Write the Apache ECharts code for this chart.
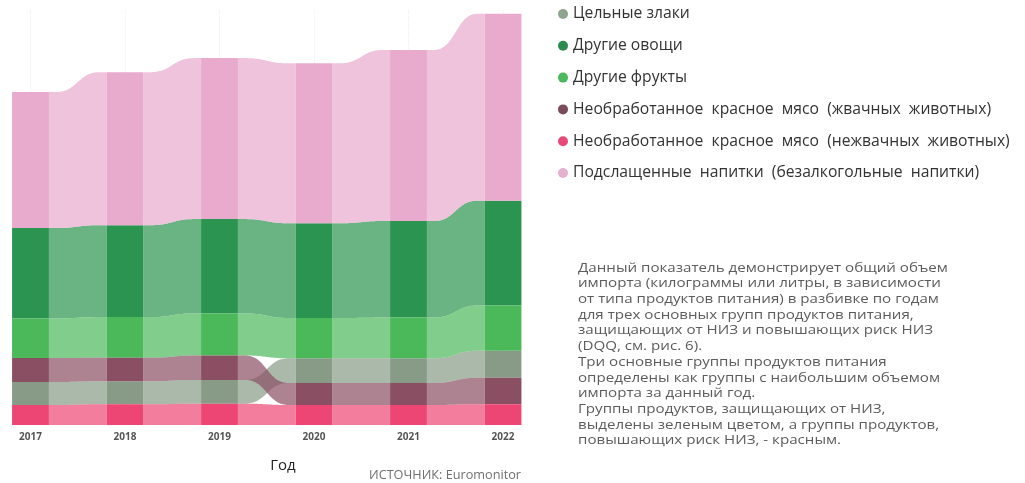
<!DOCTYPE html>
<html>
<head>
<meta charset="utf-8">
<script src="https://cdn.jsdelivr.net/npm/echarts@6/dist/echarts.min.js"></script>
<style>
  html, body { margin: 0; padding: 0; background: #ffffff; }
  #chart { width: 1025px; height: 483px; }
</style>
</head>
<body>
<div id="chart"></div>
<script>
// Import volume by year for the three largest protective and three largest risk food groups
const years = ['2017', '2018', '2019', '2020', '2021', '2022'];

const groupNames = [
  'Цельные злаки',
  'Другие овощи',
  'Другие фрукты',
  'Необработанное  красное  мясо  (жвачных  животных)',
  'Необработанное  красное  мясо  (нежвачных  животных)',
  'Подслащенные  напитки  (безалкогольные  напитки)'
];

const wholeGrains    = [23.0, 23.0, 23.8, 24.7, 24.7, 27.0];
const otherVeg       = [90.4, 91.9, 94.3, 94.7, 96.6, 104.8];
const otherFruit     = [39.6, 40.7, 42.1, 40.3, 40.7, 45.2];
const ruminantMeat   = [24.0, 23.5, 24.4, 22.0, 22.0, 26.6];
const nonRuminantMeat= [20.0, 20.7, 21.3, 20.0, 20.0, 20.7];
const sweetDrinks    = [136, 153, 161, 160, 171, 187];

const barColors    = ['#879b87', '#2b9450', '#4bb85a', '#8a4f63', '#ee4674', '#e8aacd'];
const legendColors = ['#8fa48e', '#2d8a4e', '#4cb85c', '#7d4a5c', '#e84a78', '#e6b0cf'];

const noteLines = [
  'Данный показатель демонстрирует общий объем',
  'импорта (килограммы или литры, в зависимости',
  'от типа продуктов питания) в разбивке по годам',
  'для трех основных групп продуктов питания,',
  'защищающих от НИЗ и повышающих риск НИЗ',
  '(DQQ, см. рис. 6).',
  'Три основные группы продуктов питания',
  'определены как группы с наибольшим объемом',
  'импорта за данный год.',
  'Группы продуктов, защищающих от НИЗ,',
  'выделены зеленым цветом, а группы продуктов,',
  'повышающих риск НИЗ, - красным.'
];

const valueLists = [wholeGrains, otherVeg, otherFruit, ruminantMeat, nonRuminantMeat, sweetDrinks];

// Rank the groups inside each year: smallest at the bottom, largest on top
const stacks = years.map((_, yi) => {
  const order = valueLists.map((_, k) => k).sort((a, b) => valueLists[a][yi] - valueLists[b][yi]);
  let acc = 0;
  const res = [];
  order.forEach(k => {
    res[k] = [acc, acc + valueLists[k][yi]];
    acc += valueLists[k][yi];
  });
  return res;
});

function rgba(hex, a) {
  const n = parseInt(hex.slice(1), 16);
  return 'rgba(' + ((n >> 16) & 255) + ',' + ((n >> 8) & 255) + ',' + (n & 255) + ',' + a + ')';
}

const BAR_RATIO = 0.39;
const FLAT = 0.12;

// One edge of a ribbon: flat, smooth S-curve, flat
function edge(xa, ya, xb, yb, steps) {
  const w = xb - xa;
  const sx = xa + w * FLAT, ex = xb - w * FLAT, mx = (sx + ex) / 2;
  const pts = [[xa, ya]];
  for (let s = 0; s <= steps; s++) {
    const t = s / steps, u = 1 - t;
    const x = u * u * u * sx + 3 * u * u * t * mx + 3 * u * t * t * mx + t * t * t * ex;
    const y = u * u * u * ya + 3 * u * u * t * ya + 3 * u * t * t * yb + t * t * t * yb;
    pts.push([x, y]);
  }
  pts.push([xb, yb]);
  return pts;
}

const series = [];
groupNames.forEach((name, k) => {
  const color = barColors[k];
  // ribbons between consecutive years
  const ribbonData = [];
  for (let i = 0; i < years.length - 1; i++) {
    ribbonData.push([i, stacks[i][k][0], stacks[i][k][1], stacks[i + 1][k][0], stacks[i + 1][k][1]]);
  }
  series.push({
    type: 'custom',
    name: name,
    z: 2,
    silent: true,
    encode: { x: 0, y: [1, 2] },
    data: ribbonData,
    renderItem: function (params, api) {
      const i = api.value(0);
      const bw = api.size([1, 0])[0] * BAR_RATIO;
      const a0 = api.coord([i, api.value(1)]);
      const a1 = api.coord([i, api.value(2)]);
      const b0 = api.coord([i + 1, api.value(3)]);
      const b1 = api.coord([i + 1, api.value(4)]);
      const xa = a0[0] + bw / 2;
      const xb = b0[0] - bw / 2;
      const top = edge(xa, a1[1], xb, b1[1], 40);
      const bottom = edge(xa, a0[1], xb, b0[1], 40).reverse();
      return {
        type: 'polygon',
        shape: { points: top.concat(bottom) },
        style: { fill: rgba(color, 0.7) }
      };
    }
  });
  // bars for every year
  series.push({
    type: 'custom',
    name: name,
    z: 3,
    encode: { x: 0, y: [1, 2] },
    data: years.map((_, i) => [i, stacks[i][k][0], stacks[i][k][1]]),
    renderItem: function (params, api) {
      const i = api.value(0);
      const bw = api.size([1, 0])[0] * BAR_RATIO;
      const p0 = api.coord([i, api.value(1)]);
      const p1 = api.coord([i, api.value(2)]);
      return {
        type: 'rect',
        shape: { x: p0[0] - bw / 2, y: p1[1], width: bw, height: p0[1] - p1[1] },
        style: { fill: color }
      };
    }
  });
});

const chart = echarts.init(document.getElementById('chart'), null, { renderer: 'canvas' });
chart.setOption({
  animation: false,
  textStyle: { fontFamily: '"Open Sans", "Noto Sans", sans-serif' },
  grid: { left: 30.5, right: 522, top: 10, bottom: 58 },
  xAxis: {
    type: 'category',
    data: years,
    boundaryGap: false,
    axisLine: { show: false },
    axisTick: { show: false },
    axisLabel: { color: '#555555', fontSize: 10, fontWeight: 'bold', margin: 7 },
    splitLine: { show: true, lineStyle: { color: '#efefef', type: 'dotted', width: 1 } }
  },
  yAxis: {
    type: 'value',
    min: 0,
    max: 415,
    show: false
  },
  legend: {
    orient: 'vertical',
    left: 558,
    top: 6,
    padding: 0,
    icon: 'circle',
    itemWidth: 10,
    itemHeight: 10,
    itemGap: 15.8,
    selectedMode: false,
    textStyle: { fontSize: 15.7, color: '#333333', lineHeight: 16 },
    data: groupNames.map((n, k) => ({ name: n, itemStyle: { color: legendColors[k] } }))
  },
  graphic: [
    {
      type: 'text',
      x: 578,
      y: 260,
      scaleX: 1.12,
      style: {
        text: noteLines.join('\n'),
        fontSize: 13.5,
        lineHeight: 15.7,
        fill: '#5c5c5c',
        verticalAlign: 'top',
        fontFamily: '"Open Sans", sans-serif'
      }
    },
    {
      type: 'text',
      x: 283,
      y: 466,
      style: {
        text: 'Год',
        fontSize: 15,
        fill: '#222222',
        align: 'center',
        verticalAlign: 'middle',
        fontFamily: '"Open Sans", sans-serif'
      }
    },
    {
      type: 'text',
      x: 521,
      y: 475,
      style: {
        text: 'ИСТОЧНИК: Euromonitor',
        fontSize: 12.7,
        fill: '#707070',
        align: 'right',
        verticalAlign: 'middle',
        fontFamily: '"Open Sans", sans-serif'
      }
    }
  ],
  series: series
});
</script>
</body>
</html>
